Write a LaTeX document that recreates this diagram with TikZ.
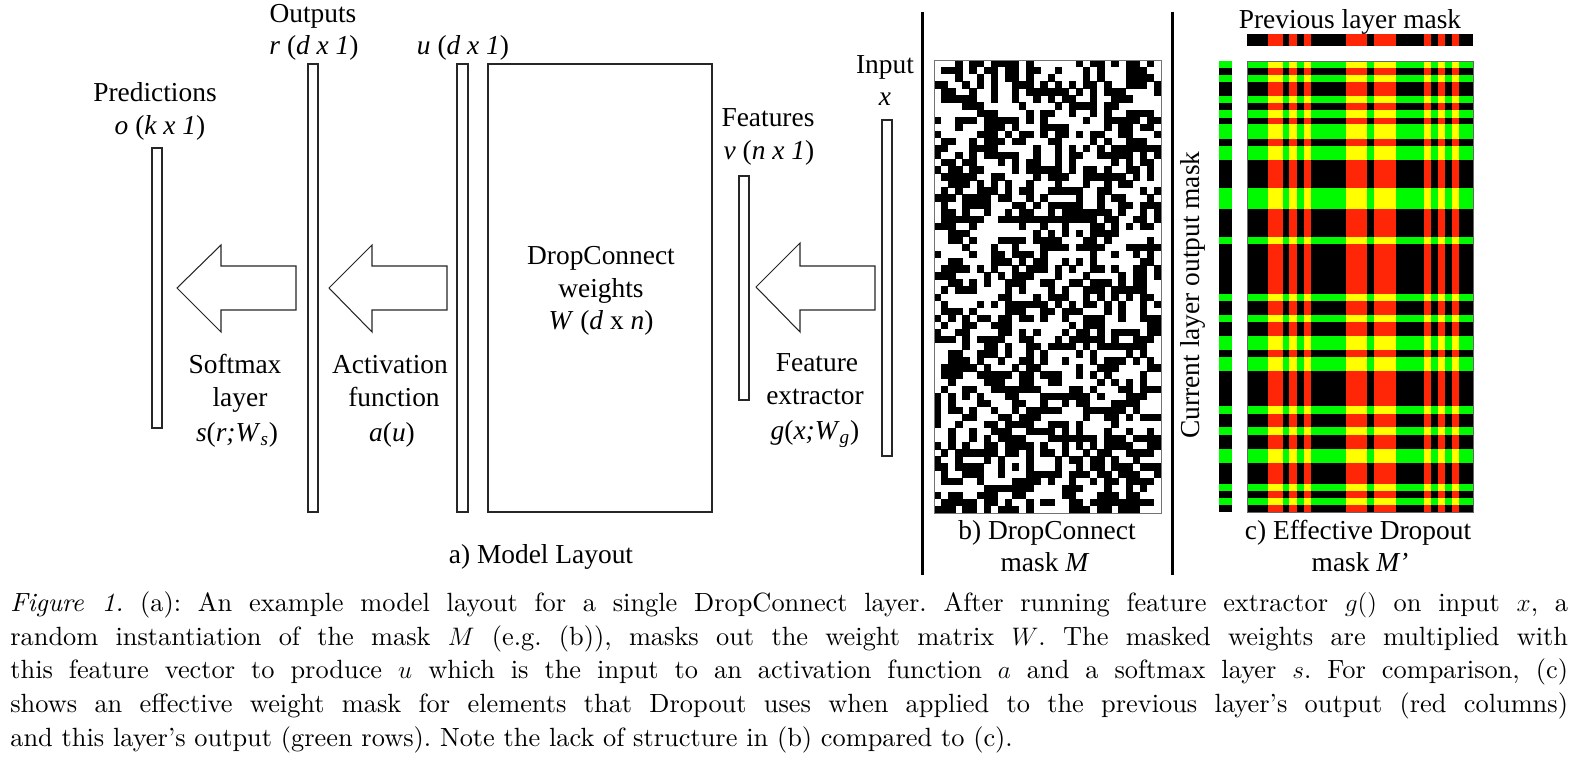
\documentclass[tikz,border=0pt]{standalone}
\usepackage{fontspec}
\newfontfamily\tnr{Liberation Serif}
\newfontfamily\capfont{lmroman10-regular.otf}[Ligatures=TeX, ItalicFont=lmroman10-italic.otf]
\definecolor{mred}{RGB}{255,38,8}
\definecolor{mgreen}{RGB}{0,250,0}
\definecolor{myellow}{RGB}{255,255,0}
\begin{document}
\begin{tikzpicture}[x=0.02cm,y=-0.02cm,
  bar/.style={draw=black!85, line width=0.6pt, fill=white},
  lbl/.style={font=\tnr\fontsize{15.6}{18}\selectfont, inner sep=0pt, anchor=base},
  blockarrow/.style={draw=black!85, line width=0.6pt, fill=white, line join=miter},
  sepline/.style={line width=1.7pt, black},
  captionline/.style={anchor=base west, inner sep=0pt, font=\capfont\fontsize{15.0}{18}\selectfont\frenchspacing}]
\useasboundingbox (0,0) rectangle (1570,763);

% ---- model layout bars
\draw[bar] (152,148) rectangle (162,428);
\draw[bar] (308,64) rectangle (318,512);
\draw[bar] (457,64) rectangle (468,512);
\draw[bar] (488,64) rectangle (712,512);
\draw[bar] (739,176) rectangle (749,400);
\draw[bar] (882,120) rectangle (892,456);

% ---- block arrows
\draw[blockarrow] (177,288) -- (221,245) -- (221,266) -- (296,266) -- (296,310) -- (221,310) -- (221,332) -- cycle;
\draw[blockarrow] (329,288) -- (372,245) -- (372,266) -- (447,266) -- (447,310) -- (372,310) -- (372,332) -- cycle;
\draw[blockarrow] (756,287) -- (800,243) -- (800,266) -- (875,266) -- (875,310) -- (800,310) -- (800,332) -- cycle;

% ---- labels
\node[lbl] (outputs) at (313,23) {Outputs};
\node[lbl] (rdim) at (314,55) {\textit{r} (\textit{d x 1})};
\node[lbl] (udim) at (463,55) {\textit{u} (\textit{d x 1})};
\node[lbl] (pred) at (155,102) {Predictions};
\node[lbl] (odim) at (160,135) {\textit{o} (\textit{k x 1})};
\node[lbl] (dc1) at (601,265) {DropConnect};
\node[lbl] (dc2) at (601,298) {weights};
\node[lbl] (dc3) at (601,330) {\textit{W} (\textit{d} x \textit{n})};
\node[lbl] (feat) at (768,127) {Features};
\node[lbl] (vdim) at (769,160) {\textit{v} (\textit{n x 1})};
\node[lbl] (inp) at (885,74) {Input};
\node[lbl] (inpx) at (885,106) {\textit{x}};
\node[lbl] (sm1) at (235,374) {Softmax};
\node[lbl] (sm2) at (240,407) {layer};
\node[lbl] (sm3) at (237,442) {\textit{s}(\textit{r;W}\textsubscript{\textit{s}})};
\node[lbl] (act1) at (390,374) {Activation};
\node[lbl] (act2) at (394,407) {function};
\node[lbl] (act3) at (392,442) {\textit{a}(\textit{u})};
\node[lbl] (fe1) at (817,372) {Feature};
\node[lbl] (fe2) at (815,405) {extractor};
\node[lbl] (fe3) at (815,440) {\textit{g}(\textit{x;W}\textsubscript{\textit{g}})};
\node[lbl] (lay) at (541,564) {a) Model Layout};
\node[lbl] (bl1) at (1047,540) {b) DropConnect};
\node[lbl] (bl2) at (1045,572) {mask \textit{M}};
\node[lbl] (cl1) at (1358,540) {c) Effective Dropout};
\node[lbl] (cl2) at (1360,572) {mask \textit{M’}};
\node[lbl] (prev) at (1350,29) {Previous layer mask};
\node[lbl, anchor=center, rotate=90] (curr) at (1193,295) {Current layer output mask};

% ---- separators
\draw[sepline] (922,12) -- (922,575);
\draw[sepline] (1172,12) -- (1172,575);

% ---- DropConnect mask M (random)
\pgfmathsetseed{4242}
\foreach \i in {0,...,31}{
  \foreach \j in {0,...,63}{
    \pgfmathrandominteger{\rr}{0}{1}
    \ifnum\rr=1 \fill[black] (934+\i*7.094,60+\j*7.078) rectangle ++(7.35,7.35);\fi
  }}
\draw[black!55, line width=0.5pt] (934,60) rectangle (1161,513);

% ---- effective dropout mask
\def\redcols{3,4,6,8,14,15,16,18,19,20,25,27,29}
\def\greenrows{0,2,5,7,9,10,12,13,18,19,20,25,33,36,39,40,42,43,49,52,55,56,60,62}
\fill[black] (1247,61) rectangle (1473,512);
\foreach \c in \redcols {\fill[mred] (1247+\c*7.0625,61) rectangle ++(7.3,451);}
\foreach \r in \greenrows {\fill[mgreen] (1247,61+\r*7.047) rectangle ++(226,7.25);}
\foreach \c in \redcols {\foreach \r in \greenrows {\fill[myellow] (1247+\c*7.0625,61+\r*7.047) rectangle ++(7.3,7.25);}}
\draw[black!60, line width=0.4pt] (1247,61) rectangle (1473,512);

% previous layer mask (columns)
\fill[black] (1247,34) rectangle (1473,46);
\foreach \c in \redcols {\fill[mred] (1247+\c*7.0625,34) rectangle ++(7.3,12);}
% current layer output mask (rows)
\fill[black] (1219,61) rectangle (1232,512);
\foreach \r in \greenrows {\fill[mgreen] (1219,61+\r*7.047) rectangle ++(13,7.25);}

% ---- caption
\node[captionline] (cap1) at (10,612) {\makebox[31.16cm][s]{\textit{Figure 1.} (a): An example model layout for a single DropConnect layer. After running feature extractor $g()$ on input $x$, a}};
\node[captionline] (cap2) at (10,645.5) {\makebox[31.16cm][s]{random instantiation of the mask $M$ (e.g. (b)), masks out the weight matrix $W$. The masked weights are multiplied with}};
\node[captionline] (cap3) at (10,679) {\makebox[31.16cm][s]{this feature vector to produce $u$ which is the input to an activation function $a$ and a softmax layer $s$. For comparison, (c)}};
\node[captionline] (cap4) at (10,712.5) {\makebox[31.16cm][s]{shows an effective weight mask for elements that Dropout uses when applied to the previous layer's output (red columns)}};
\node[captionline] (cap5) at (10,746) {and this layer's output (green rows). Note the lack of structure in (b) compared to (c).};
\end{tikzpicture}
\end{document}
